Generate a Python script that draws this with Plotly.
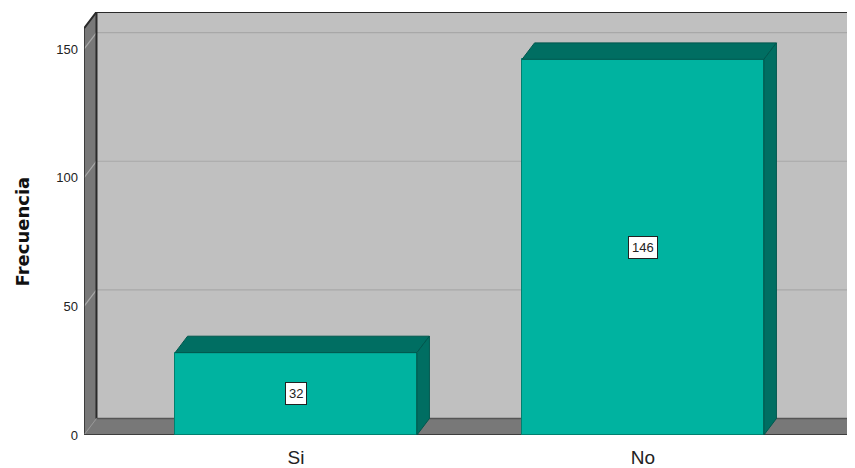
import plotly.graph_objects as go

categories = ["Si", "No"]
values = [32, 146]
y_ticks = [0, 50, 100, 150]

# geometry (data units)
X0, X1 = -0.611, 1.611
YTOP = 164.4
DX, DY = 0.036, 6.4
BW = 0.697

FRONT = "#00B3A0"
DARK = "#006E62"
WALL = "#C0C0C0"
PANEL = "#787878"
EDGE = "#2a2a2a"

fig = go.Figure()
shapes = []

def path(xs, ys, closed=True):
    p = "M " + " L ".join(f"{x},{y}" for x, y in zip(xs, ys))
    return p + (" Z" if closed else "")

def spoly(xs, ys, fill, line_color=None, lw=1):
    shapes.append(dict(type="path", xref="x", yref="y", path=path(xs, ys), fillcolor=fill,
                       line=dict(color=line_color or fill, width=lw), layer="below"))

def sline(xs, ys, color, lw=1):
    shapes.append(dict(type="path", xref="x", yref="y", path=path(xs, ys, False),
                       line=dict(color=color, width=lw), layer="below"))

XR = X1 + 0.1
# back wall
spoly([X0 + DX, XR, XR, X0 + DX], [DY, DY, YTOP, YTOP], WALL)
for t in y_ticks[1:]:
    sline([X0 + DX, XR], [t + DY, t + DY], "#A8A8A8", 1.2)
# left side panel
spoly([X0, X0 + DX, X0 + DX, X0], [0, DY, YTOP, YTOP - DY], PANEL)
for t in y_ticks[1:]:
    sline([X0, X0 + DX], [t, t + DY], "#A8A8A8", 1.2)
# floor
spoly([X0, X0 + DX, XR, XR], [0, DY, DY, 0], PANEL)
# edges
sline([X0, X0 + DX, XR], [YTOP - DY, YTOP, YTOP], EDGE, 2)
sline([X0 + DX, X0 + DX], [DY, YTOP], EDGE, 2)
sline([X0, X0], [0, YTOP - DY], EDGE, 1.5)
sline([X0 + DX, XR], [DY, DY], "#555555", 1.5)
sline([X0, X0 + DX], [0, DY], "#999999", 1)
sline([X0, XR], [0, 0], EDGE, 1.5)

xs = list(range(len(categories)))
# bars: front faces
fig.add_trace(go.Bar(x=xs, y=values, width=BW,
                     marker=dict(color=FRONT, line=dict(color="#00806F", width=1)),
                     hoverinfo="skip", showlegend=False))
# bars: top and side faces
for i, v in zip(xs, values):
    xl, xr = i - BW / 2, i + BW / 2
    for px, py in (([xl, xl + DX, xr + DX, xr], [v, v + DY, v + DY, v]),
                   ([xr, xr + DX, xr + DX, xr], [0, DY, v + DY, v])):
        fig.add_trace(go.Scatter(x=px + [px[0]], y=py + [py[0]], mode="lines", fill="toself",
                                 fillcolor=DARK, line=dict(color="#00574D", width=1),
                                 hoverinfo="skip", showlegend=False))

annotations = []
for i, v in zip(xs, values):
    annotations.append(dict(x=i, y=v / 2, text=str(v), showarrow=False,
                            bgcolor="white", bordercolor="#222", borderwidth=1, borderpad=3,
                            font=dict(size=13, color="#222")))
annotations.append(dict(xref="paper", yref="paper", x=0, y=0.48, xshift=-74, text="<b>Frecuencia</b>",
                        textangle=-90, showarrow=False,
                        font=dict(family="DejaVu Sans, Verdana, sans-serif", size=18, color="#111")))

# page body has an 8px margin (left/top), so the figure is sized to fill the rest of the window
fig.update_layout(
    width=847, height=460, margin=dict(l=76, r=0, t=4, b=33),
    paper_bgcolor="white", plot_bgcolor="white",
    font=dict(family="Liberation Sans, Arial, sans-serif", color="#222"),
    annotations=annotations, shapes=shapes, bargap=0,
    xaxis=dict(range=[X0, X1], tickvals=xs, ticktext=categories, showgrid=False, zeroline=False,
               showline=False, ticks="", tickfont=dict(size=19, color="#222"), fixedrange=True,
               automargin=False, ticklabelstandoff=9),
    yaxis=dict(range=[0, YTOP], tickvals=y_ticks, showgrid=False, zeroline=False, showline=False,
               ticks="", tickfont=dict(size=13, color="#222"), ticklabelstandoff=5, fixedrange=True,
               automargin=False),
)

fig.write_html("out.html")
